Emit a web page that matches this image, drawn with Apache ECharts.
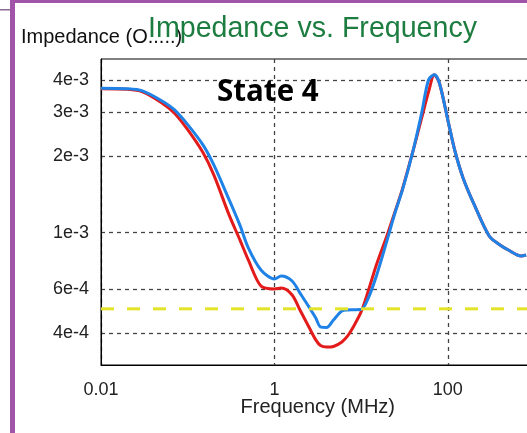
<!DOCTYPE html>
<html><head><meta charset="utf-8">
<script src="https://cdn.jsdelivr.net/npm/echarts@6/dist/echarts.min.js"></script>
<style>html,body{margin:0;padding:0;background:#fff;}#c{width:527px;height:433px;}</style>
</head><body><div id="c"></div>
<script>
// Frequency (MHz)
const freq = [0.01, 0.02, 0.03, 0.05, 0.07, 0.1, 0.15, 0.2, 0.3, 0.4, 0.5, 0.7, 1, 1.2, 1.6, 2, 2.5, 3, 3.4, 4, 4.8, 6, 7, 8, 10, 12, 15, 20, 25, 30, 40, 50, 60, 70, 80, 100, 120, 150, 200, 300, 400, 500, 700, 800];
// Impedance (Ohms) - blue trace
const zBlue = [3.72e-3, 3.70e-3, 3.63e-3, 3.32e-3, 3.06e-3, 2.67e-3, 2.22e-3, 1.85e-3, 1.35e-3, 1.07e-3, 0.87e-3, 0.712e-3, 0.656e-3, 0.674e-3, 0.644e-3, 0.573e-3, 0.509e-3, 0.460e-3, 0.424e-3, 0.422e-3, 0.452e-3, 0.490e-3, 0.495e-3, 0.496e-3, 0.497e-3, 0.547e-3, 0.674e-3, 0.936e-3, 1.218e-3, 1.475e-3, 2.123e-3, 2.97e-3, 4.015e-3, 4.20e-3, 3.90e-3, 2.79e-3, 2.12e-3, 1.645e-3, 1.298e-3, 0.970e-3, 0.894e-3, 0.854e-3, 0.809e-3, 0.816e-3];
// Impedance (Ohms) - red trace
const zRed = [3.70e-3, 3.68e-3, 3.60e-3, 3.26e-3, 2.97e-3, 2.55e-3, 2.07e-3, 1.69e-3, 1.175e-3, 0.936e-3, 0.780e-3, 0.615e-3, 0.599e-3, 0.604e-3, 0.567e-3, 0.490e-3, 0.424e-3, 0.377e-3, 0.358e-3, 0.353e-3, 0.355e-3, 0.370e-3, 0.391e-3, 0.420e-3, 0.486e-3, 0.583e-3, 0.745e-3, 0.979e-3, 1.229e-3, 1.488e-3, 2.123e-3, 2.84e-3, 3.60e-3, 4.20e-3, 3.90e-3, 2.79e-3, 2.12e-3, 1.645e-3, 1.298e-3, 0.970e-3, 0.894e-3, 0.854e-3, 0.809e-3, 0.816e-3];
// Limit line
const limitFreq = [0.01, 1000];
const limitZ = [5e-4, 5e-4];
// Ticks
const xTickValues = [0.01, 1, 100];
const xTickLabels = ['0.01', '1', '100'];
const yTickValues = [4e-4, 6e-4, 1e-3, 2e-3, 3e-3, 4e-3];
const yTickLabels = ['4e-4', '6e-4', '1e-3', '2e-3', '3e-3', '4e-3'];

function pick(vals, labels, v) {
  for (let i = 0; i < vals.length; i++) if (Math.abs(vals[i] - v) / vals[i] < 1e-3) return labels[i];
  return '';
}
const pair = (xs, ys) => xs.map((x, i) => [x, ys[i]]);

const chart = echarts.init(document.getElementById('c'), null, {renderer: 'canvas'});
const FONT = 'Liberation Sans, Arial, sans-serif';
chart.setOption({
  animation: false,
  backgroundColor: '#fff',
  title: [
    {text: 'Impedance (O.....)', left: 21, top: 27, padding: 0, textStyle: {fontFamily: FONT, fontSize: 20, fontWeight: 'normal', color: '#111'}},
    {text: 'Impedance vs. Frequency', left: 148, top: 15, padding: 0, textStyle: {fontFamily: FONT, fontSize: 28.6, fontWeight: 'normal', color: '#1d7d41'}},
    {text: 'State 4', left: 217, top: 78, padding: 0, textStyle: {fontFamily: 'Open Sans, sans-serif', fontSize: 29.5, fontWeight: 'bold', color: '#000'}}
  ],
  grid: {left: 101, top: 59, right: -7.5, bottom: 68, show: true, borderColor: '#000', borderWidth: 1, outerBoundsMode: 'none', containLabel: false},
  xAxis: {
    type: 'log', logBase: 10, min: 0.01, max: 1000,
    name: 'Frequency (MHz)', nameLocation: 'middle', nameGap: 32, nameMoveOverlap: false,
    nameTextStyle: {fontFamily: FONT, fontSize: 20, color: '#222'},
    axisLine: {show: true, lineStyle: {color: '#000', width: 1}},
    axisTick: {show: false, customValues: xTickValues},
    axisLabel: {customValues: xTickValues, margin: 16, fontFamily: FONT, fontSize: 18, color: '#222', formatter: v => pick(xTickValues, xTickLabels, v)},
    splitLine: {show: true, lineStyle: {color: '#444', type: [4, 4], width: 1.3}},
    minorTick: {show: false}, minorSplitLine: {show: false}
  },
  yAxis: {
    type: 'log', logBase: 10, min: 3e-4, max: 4.85e-3,
    axisLine: {show: true, lineStyle: {color: '#000', width: 1}},
    axisTick: {show: false, customValues: yTickValues},
    axisLabel: {customValues: yTickValues, margin: 12, fontFamily: FONT, fontSize: 18, color: '#222', formatter: v => pick(yTickValues, yTickLabels, v)},
    splitLine: {show: true, lineStyle: {color: '#444', type: [4, 4], width: 1.3}}
  },
  series: [
    {type: 'line', name: 'red', data: pair(freq, zRed), showSymbol: false, smooth: 0.3, lineStyle: {color: '#e31b1b', width: 3}, z: 2},
    {type: 'line', name: 'blue', data: pair(freq, zBlue), showSymbol: false, smooth: 0.3, lineStyle: {color: '#1e82e6', width: 3}, z: 3},
    {type: 'line', name: 'limit', data: pair(limitFreq, limitZ), showSymbol: false, lineStyle: {color: '#e3e32a', width: 3, type: [13, 13]}, z: 4}
  ],
  graphic: [
    {type: 'rect', shape: {x: 10, y: 0, width: 5, height: 433}, style: {fill: '#a155a8'}, z: 100},
    {type: 'rect', shape: {x: 10, y: 0, width: 517, height: 3}, style: {fill: '#a155a8'}, z: 100},
    {type: 'rect', shape: {x: 0, y: 9, width: 10, height: 1.5}, style: {fill: '#8a6a90'}, z: 100}
  ]
});
</script>
</body></html>
